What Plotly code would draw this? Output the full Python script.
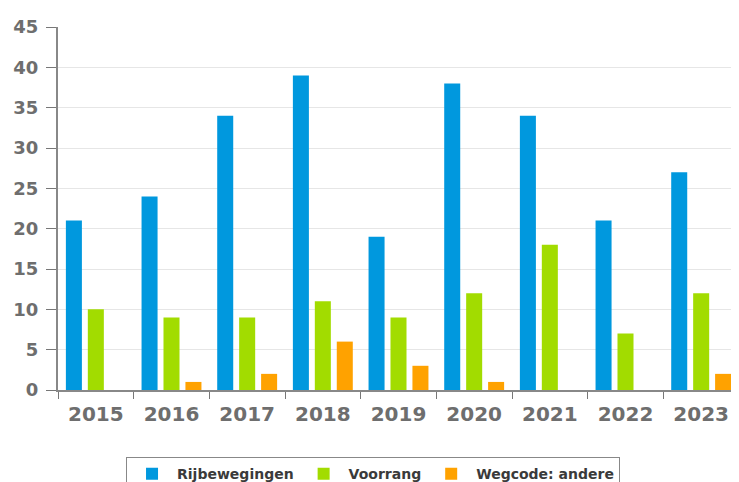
import plotly.graph_objects as go

years = ["2015", "2016", "2017", "2018", "2019", "2020", "2021", "2022", "2023"]
rijbewegingen = [21, 24, 34, 39, 19, 38, 34, 21, 27]
voorrang = [10, 9, 9, 11, 9, 12, 18, 7, 12]
wegcode_andere = [0, 1, 2, 6, 3, 1, 0, 0, 2]

series = [
    ("Rijbewegingen", rijbewegingen, "#0098de"),
    ("Voorrang", voorrang, "#a2dc00"),
    ("Wegcode: andere", wegcode_andere, "#ffa200"),
]

fig = go.Figure()
for name, vals, col in series:
    fig.add_trace(go.Bar(x=years, y=vals, name=name, marker=dict(color=col, line=dict(width=0))))

# the page body adds an 8px offset; the figure is taller than the window so the
# legend box is cut off at the bottom edge like in the reference
fig.update_layout(
    width=731, height=520,
    margin=dict(l=50, r=0, t=19, b=138),
    paper_bgcolor="white", plot_bgcolor="white",
    barmode="group", bargap=0.13, bargroupgap=0.27,
    font=dict(family="DejaVu Sans", color="#666666"),
    showlegend=True,
    legend=dict(
        orientation="h", x=0.4626, xanchor="center", y=-0.185, yanchor="top",
        bordercolor="#888888", borderwidth=1,
        font=dict(size=14, color="#3a3a3a", weight="bold"),
        itemwidth=40, tracegroupgap=0,
    ),
    xaxis=dict(
        type="category", tickson="boundaries", ticks="outside", ticklen=7,
        tickcolor="#777777", showline=True, linecolor="#888888", linewidth=2,
        tickfont=dict(family="DejaVu Sans", size=20, color="#6e6e6e", weight="bold"),
        showgrid=False, automargin=False, ticklabelstandoff=5,
    ),
    yaxis=dict(
        range=[0, 45], dtick=5, ticks="outside", ticklen=10, tickcolor="#777777",
        showline=True, linecolor="#888888", linewidth=2,
        gridcolor="#e6e6e6", gridwidth=1, zeroline=False,
        tickfont=dict(family="DejaVu Sans", size=18, color="#6e6e6e", weight="bold"),
        ticklabelstandoff=4, automargin=False,
    ),
)

fig.write_html("out.html")
